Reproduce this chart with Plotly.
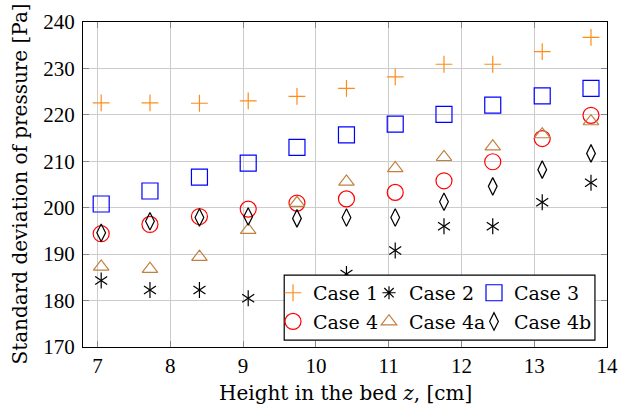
import plotly.graph_objects as go

heights = [7.05, 7.72, 8.40, 9.07, 9.74, 10.42, 11.09, 11.76, 12.43, 13.11, 13.78]
case1 = [222.6, 222.6, 222.5, 223.0, 224.0, 225.7, 228.2, 230.9, 230.9, 233.6, 236.7]
case2 = [184.3, 182.3, 182.3, 180.5, 182.0, 185.7, 190.8, 196.0, 196.0, 201.2, 205.4]
case3 = [200.8, 203.6, 206.6, 209.6, 213.0, 215.7, 218.0, 220.1, 222.1, 224.1, 225.7]
case4 = [194.4, 196.4, 198.1, 199.7, 201.0, 201.9, 203.3, 205.8, 209.9, 214.9, 219.9]
case4a = [187.3, 186.8, 189.4, 195.2, 201.0, 205.6, 208.5, 210.9, 213.2, 215.8, 218.6]
case4b = [194.6, 197.1, 197.9, 198.1, 197.7, 197.9, 197.9, 201.3, 204.6, 208.2, 211.7]

x_ticks = [7, 8, 9, 10, 11, 12, 13, 14]
y_ticks = [170, 180, 190, 200, 210, 220, 230, 240]

x_title = "Height in the bed <i>z</i>, [cm]"
y_title = "Standard deviation of pressure [Pa]"

TICK_FONT = dict(family="Liberation Serif", size=21, color="#000000")
TEXT_FONT = dict(family="DejaVu Serif", size=20, color="#000000")
LEG_FONT = dict(family="DejaVu Serif", size=19, color="#000000")

fig = go.Figure()

def add(y, name, symbol, color, size, legend, showlegend=True, lw=1.2, lwidth=None):
    fig.add_trace(go.Scatter(
        x=heights, y=y, mode="markers", name=name,
        marker=dict(symbol=symbol, size=size, color=color,
                    line=dict(color=color, width=lw)),
        legend=legend, showlegend=showlegend, legendgroup=name,
        legendwidth=lwidth,
    ))

add(case1, "Case 1", "cross-thin-open", "#ff8c1a", 12, "legend", lwidth=51)
# legend entry for Case 2 (the six-armed asterisk is drawn as two overlaid markers)
fig.add_trace(go.Scatter(x=[None], y=[None], mode="markers", name="Case 2",
                         marker=dict(symbol="asterisk-open", size=11, color="#000000",
                                     line=dict(color="#000000", width=1.2)),
                         legend="legend", legendgroup="Case 2", legendwidth=60))
add(case2, "Case 2", "y-down-open", "#000000", 10, "legend", showlegend=False)
add(case2, "Case 2", "y-up-open", "#000000", 10, "legend", showlegend=False)
add(case3, "Case 3", "square-open", "#0000ff", 16, "legend", lwidth=76)
add(case4, "Case 4", "circle-open", "#ff0000", 16, "legend2", lwidth=51)
add(case4a, "Case 4a", "triangle-up-open", "#bf8040", 13.5, "legend2", lwidth=60)
add(case4b, "Case 4b", "diamond-tall-open", "#000000", 12.5, "legend2", lwidth=76)

axis_common = dict(
    showline=True, linecolor="#000000", linewidth=1.2, mirror="ticks",
    ticks="inside", ticklen=6, tickcolor="#888888", tickwidth=1,
    showgrid=True, gridcolor="#cccccc", gridwidth=1, zeroline=False,
    tickfont=TICK_FONT, automargin=False, ticklabeloverflow="allow",
)

fig.update_xaxes(range=[6.8, 14], tickvals=x_ticks,
                 ticktext=[str(v) for v in x_ticks], **axis_common)
fig.update_yaxes(range=[170, 240], tickvals=y_ticks,
                 ticktext=[str(v) for v in y_ticks], ticklabelstandoff=3,
                 **axis_common)

leg_common = dict(orientation="h", xanchor="left", yanchor="top",
                  bgcolor="rgba(0,0,0,0)", borderwidth=0, itemwidth=30,
                  font=LEG_FONT, tracegroupgap=0)

fig.update_layout(
    width=619, height=405,
    margin=dict(l=83, r=12, t=22, b=58),
    paper_bgcolor="white", plot_bgcolor="white",
    font=TEXT_FONT,
    legend=dict(x=0.3626, y=0.225, **leg_common),
    legend2=dict(x=0.3626, y=0.1366, **leg_common),
    shapes=[dict(type="rect", xref="paper", yref="paper",
                 x0=0.384, x1=0.977, y0=0.021, y1=0.221,
                 line=dict(color="#000000", width=1.2),
                 fillcolor="white", layer="above")],
    annotations=[
        dict(text=x_title, xref="paper", yref="paper", x=0.5, y=-0.14,
             xanchor="center", yanchor="middle", showarrow=False, font=TEXT_FONT),
        dict(text=y_title, xref="paper", yref="paper", x=-0.122, y=0.5,
             xanchor="center", yanchor="middle", showarrow=False,
             textangle=-90, font=TEXT_FONT),
    ],
)

fig.write_html("out.html", config={"displayModeBar": False},
               post_script="document.body.style.margin='0px';")
